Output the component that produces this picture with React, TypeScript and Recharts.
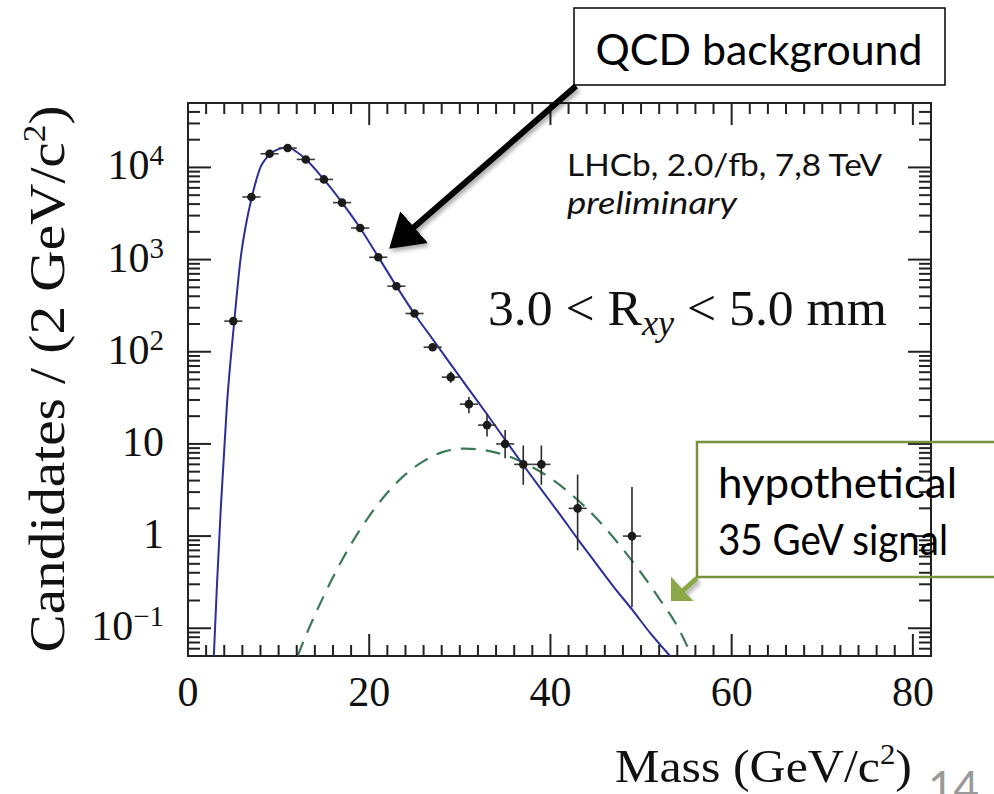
import React from 'react';
import {
  ComposedChart,
  Line,
  Scatter,
  ErrorBar,
  XAxis,
  YAxis,
  ReferenceArea,
} from 'recharts';

// measured candidates per 2 GeV bin
const massBins = [5, 7, 9, 11, 13, 15, 17, 19, 21, 23, 25, 27, 29, 31, 33, 35, 37, 39, 43, 49];
const candidates = [215, 4780, 14070, 16220, 12210, 7410, 4150, 2200, 1060, 514, 260, 112, 53, 27, 16, 10, 6, 6, 2, 1];
const errLow = [0, 0, 0, 0, 0, 0, 0, 0, 0, 0, 16, 10, 7, 5.5, 4, 3, 2.4, 2.4, 1.3, 0.83];
const errHigh = [0, 0, 0, 0, 0, 0, 0, 0, 0, 0, 16, 11, 8, 5.3, 5.2, 4.2, 3.6, 3.6, 2.66, 2.4];
const binHalfWidth = [1, 1, 1, 1, 1, 1, 1, 1, 1, 1, 1, 1, 1, 1, 1, 1, 1, 1, 1, 1];

// QCD background fit (solid blue)
const fitMass = [2.85, 3.2, 3.63, 4.29, 5.11, 5.84, 6.4, 7.05, 7.5, 8.04, 8.5, 9.07, 10, 11, 12, 13, 15, 17, 19, 21, 23, 25, 27, 29, 31, 33, 35, 37, 39, 41, 43.3, 45, 47, 49, 51, 53.2];
const fitValues = [0.05, 0.3, 2.1, 26, 215, 1090, 2400, 4780, 7100, 10250, 12100, 14060, 15800, 16600, 14700, 12300, 7400, 4150, 2200, 1070, 515, 257, 137, 73, 39, 21, 11.1, 5.9, 3.2, 1.74, 0.85, 0.51, 0.28, 0.16, 0.089, 0.05];

// hypothetical 35 GeV signal (dashed green)
const signalMass = [12.1, 13, 14, 15, 16, 17, 18, 19, 20, 21, 22, 23, 24, 25, 26, 27, 28, 29, 30.5, 32, 34, 36, 38, 40, 42, 44, 46, 48, 50, 52, 54, 55.6];
const signalValues = [0.05, 0.083, 0.139, 0.226, 0.358, 0.55, 0.82, 1.18, 1.65, 2.24, 2.95, 3.77, 4.67, 5.6, 6.5, 7.4, 8.1, 8.6, 8.9, 8.75, 8.05, 6.95, 5.6, 4.25, 3.0, 2.0, 1.24, 0.72, 0.4, 0.21, 0.105, 0.05];

const xMajor = [0, 20, 40, 60, 80];
const xTicks = Array.from({ length: 41 }, (_, i) => i * 2);
const yMajor = [0.1, 1, 10, 100, 1000, 10000];
const yLabels: Record<number, [string, string]> = {
  0.1: ['10', '\u22121'],
  1: ['1', ''],
  10: ['10', ''],
  100: ['10', '2'],
  1000: ['10', '3'],
  10000: ['10', '4'],
};
const yTicks = [0.06, 0.07, 0.08, 0.09].concat(
  ...[0.1, 1, 10, 100, 1000].map((d) => [1, 2, 3, 4, 5, 6, 7, 8, 9].map((k) => +(k * d).toPrecision(3))),
  [10000, 20000, 30000, 40000]
);

const points = massBins.map((m, i) => ({
  m,
  v: candidates[i],
  yErr: [errLow[i], errHigh[i]],
  xErr: binHalfWidth[i],
}));
const fitData = fitMass.map((m, i) => ({ m, v: fitValues[i] }));
const signalData = signalMass.map((m, i) => ({ m, v: signalValues[i] }));

const PLOT_W = 743;
const PLOT_H = 553;
const FRAME = '#222';
const SERIF = '"Liberation Serif", "DejaVu Serif", serif';
const SANS = 'Lato, "Open Sans", sans-serif';

const XTick = (props: any) => {
  const { x, y, payload } = props;
  const major = xMajor.includes(payload.value);
  const len = major ? 22 : 11;
  return (
    <g>
      <line x1={x} y1={y} x2={x} y2={y - len} stroke={FRAME} strokeWidth={2} />
      <line x1={x} y1={y - PLOT_H} x2={x} y2={y - PLOT_H + len} stroke={FRAME} strokeWidth={2} />
      {major && (
        <text x={x} y={y + 50} textAnchor="middle" fontFamily={SERIF} fontSize={42} fill="#111">
          {payload.value}
        </text>
      )}
    </g>
  );
};

const YTick = (props: any) => {
  const { x, y, payload } = props;
  const major = yMajor.includes(payload.value);
  const len = major ? 23 : 12;
  const label = yLabels[payload.value];
  return (
    <g>
      <line x1={x} y1={y} x2={x + len} y2={y} stroke={FRAME} strokeWidth={2} />
      <line x1={x + PLOT_W} y1={y} x2={x + PLOT_W - len} y2={y} stroke={FRAME} strokeWidth={2} />
      {major && label && (
        <text x={x - 24} y={y + 12} textAnchor="end" fontFamily={SERIF} fontSize={42} fill="#111">
          {label[0]}
          {label[1] && (
            <tspan fontSize={29} dy={-14}>
              {label[1]}
            </tspan>
          )}
        </text>
      )}
    </g>
  );
};

const Dot = (props: any) => <circle cx={props.cx} cy={props.cy} r={4.3} fill="#1b1b1b" />;

const Annotations = () => (
  <svg
    width={994}
    height={794}
    style={{ position: 'absolute', left: 0, top: 0, pointerEvents: 'none' }}
  >
    <defs>
      <filter id="shadow" x="-20%" y="-20%" width="140%" height="140%">
        <feDropShadow dx={2} dy={3} stdDeviation={2} floodOpacity={0.35} />
      </filter>
      <marker id="blackHead" markerWidth={8} markerHeight={8} refX={2} refY={4} orient="auto" markerUnits="strokeWidth">
        <path d="M0,0.5 L5.5,4 L0,7.5 Z" fill="#000" />
      </marker>
      <marker id="greenHead" markerWidth={8} markerHeight={8} refX={2} refY={4} orient="auto" markerUnits="strokeWidth">
        <path d="M0,0 L6,4 L0,8 Z" fill="#8aa845" />
      </marker>
    </defs>

    {/* axis titles */}
    <text
      transform="translate(64 379) rotate(-90)"
      textAnchor="middle"
      fontFamily={SERIF}
      fontSize={50}
      fill="#111"
      textLength={547}
      lengthAdjust="spacingAndGlyphs"
    >
      Candidates / (2 GeV/c
      <tspan fontSize={31} dy={-19}>2</tspan>
      <tspan dy={19}>)</tspan>
    </text>
    <text
      x={912}
      y={782}
      textAnchor="end"
      fontFamily={SERIF}
      fontSize={47}
      fill="#111"
      textLength={297}
      lengthAdjust="spacingAndGlyphs"
    >
      Mass (GeV/c
      <tspan fontSize={29} dy={-18}>2</tspan>
      <tspan dy={18}>)</tspan>
    </text>

    {/* in-plot labels */}
    <text x={567} y={176} fontFamily={SANS} fontSize={31} fill="#111" textLength={315} lengthAdjust="spacingAndGlyphs">
      LHCb, 2.0/fb, 7,8 TeV
    </text>
    <text x={567} y={214} fontFamily={SANS} fontSize={31} fontStyle="italic" fill="#111" textLength={170} lengthAdjust="spacingAndGlyphs">
      preliminary
    </text>
    <text x={488} y={325} fontFamily={SERIF} fontSize={50} fill="#111" textLength={399} lengthAdjust="spacingAndGlyphs">
      3.0 &lt; R
      <tspan fontStyle="italic" fontSize={35} dy={10}>xy</tspan>
      <tspan dy={-10}> &lt; 5.0 mm</tspan>
    </text>

    {/* QCD background callout */}
    <rect x={574} y={8} width={371} height={77} fill="#fff" stroke="#000" strokeWidth={1.5} />
    <text x={759} y={65} textAnchor="middle" fontFamily={SANS} fontSize={43} fill="#000" textLength={327} lengthAdjust="spacingAndGlyphs">
      QCD background
    </text>
    <g filter="url(#shadow)">
      <line x1={576} y1={86} x2={405} y2={235} stroke="#000" strokeWidth={6} markerEnd="url(#blackHead)" />
    </g>

    {/* signal callout */}
    <rect x={697} y={442} width={330} height={135} fill="none" stroke="#77933c" strokeWidth={2.5} />
    <text x={718} y={498} fontFamily={SANS} fontSize={42} fill="#000" textLength={239} lengthAdjust="spacingAndGlyphs">
      hypothetical
    </text>
    <text x={718} y={555} fontFamily={SANS} fontSize={42} fill="#000" textLength={230} lengthAdjust="spacingAndGlyphs">
      35 GeV signal
    </text>
    <g filter="url(#shadow)">
      <line x1={697} y1={578} x2={676} y2={597} stroke="#8aa845" strokeWidth={5} markerEnd="url(#greenHead)" />
    </g>

    {/* slide page number, cut off at the bottom */}
    <text x={928} y={803} fontFamily={SANS} fontSize={44} fill="#9a9a9a">
      14
    </text>
  </svg>
);

export default function App() {
  return (
    <div style={{ position: 'absolute', left: 0, top: 0, width: 994, height: 794, background: '#fff' }}>
      <ComposedChart width={994} height={794} margin={{ top: 103, right: 63, bottom: 78, left: 0 }}>
        <XAxis
          dataKey="m"
          type="number"
          domain={[0, 82]}
          allowDataOverflow
          ticks={xTicks}
          interval={0}
          tick={XTick}
          tickLine={false}
          axisLine={false}
          tickSize={0}
          tickMargin={0}
          height={60}
        />
        <YAxis
          dataKey="v"
          type="number"
          scale="log"
          domain={[0.05, 50000]}
          allowDataOverflow
          ticks={yTicks}
          interval={0}
          tick={YTick}
          tickLine={false}
          axisLine={false}
          tickSize={0}
          tickMargin={0}
          width={188}
        />
        <ReferenceArea x1={0} x2={82} y1={0.05} y2={50000} fill="none" fillOpacity={0} stroke={FRAME} strokeWidth={2} />
        <Line
          data={signalData}
          dataKey="v"
          type="monotone"
          stroke="#3b7a57"
          strokeWidth={2.2}
          strokeDasharray="15 10"
          dot={false}
          isAnimationActive={false}
        />
        <Line
          data={fitData}
          dataKey="v"
          type="monotone"
          stroke="#2b2f98"
          strokeWidth={2}
          dot={false}
          isAnimationActive={false}
        />
        <Scatter data={points} dataKey="v" shape={Dot} isAnimationActive={false}>
          <ErrorBar dataKey="yErr" direction="y" width={0} stroke="#2a2a2a" strokeWidth={1.6} />
          <ErrorBar dataKey="xErr" direction="x" width={0} stroke="#3a3a3a" strokeWidth={1.6} />
        </Scatter>
      </ComposedChart>
      <Annotations />
    </div>
  );
}
